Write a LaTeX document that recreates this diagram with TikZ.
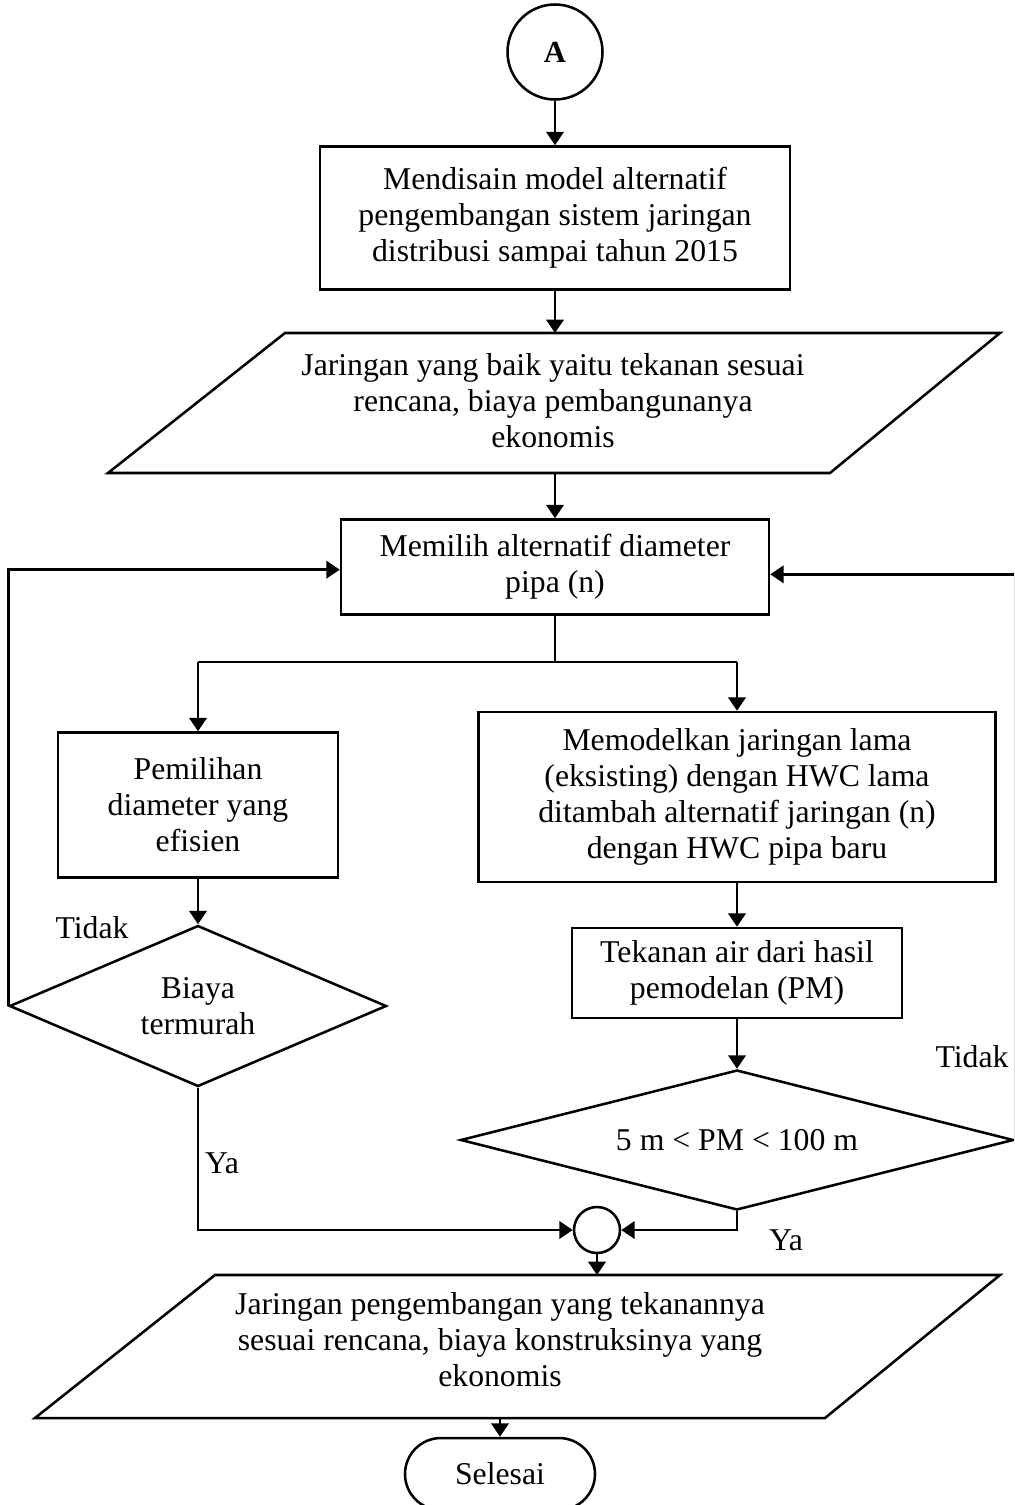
\documentclass[tikz,border=0pt]{standalone}
\usepackage{fontspec}
\setmainfont{Liberation Serif}
\usetikzlibrary{arrows.meta,shapes.geometric}
% one drawing unit = one pixel of the sheet
\def\pxu{0.75pt}
\begin{document}
\begin{tikzpicture}[x=0.75pt,y=-0.75pt,
  line width=1.9pt,
  every node/.style={font=\fontsize{23.8}{27}\selectfont, align=center, inner sep=0pt},
  arr/.style={-{Triangle[length=10pt,width=13pt]}},
  boxnode/.style={draw, rectangle, line width=1.9pt},
  decision/.style={draw, diamond, aspect=3, line width=1.9pt},
  lbl/.style={font=\fontsize{23.8}{27}\selectfont}
]
\useasboundingbox (0,0) rectangle (1014,1505);
\clip (0,0) rectangle (1014,1505);

% start connector
\node[draw, circle, minimum size=95*\pxu, font=\bfseries\fontsize{23}{27}\selectfont] (A) at (555,52) {A};

% design step
\node[boxnode, minimum width=470*\pxu, minimum height=143*\pxu] (b1) at (555,218) {Mendisain model alternatif\\pengembangan sistem jaringan\\distribusi sampai tahun 2015};

% first data parallelogram
\draw (285,333) -- (1000,333) -- (830,473) -- (108,473) -- cycle;
\coordinate (p1n) at (555,333);
\coordinate (p1s) at (555,473);
\node (p1) at (553,401) {Jaringan yang baik yaitu tekanan sesuai\\rencana, biaya pembangunanya\\ekonomis};

% choose pipe diameter
\node[boxnode, minimum width=428*\pxu, minimum height=95*\pxu] (b2) at (555,567) {Memilih alternatif diameter\\pipa (n)};

% left branch
\node[boxnode, minimum width=280*\pxu, minimum height=145*\pxu] (bL) at (198,805) {Pemilihan\\diameter yang\\efisien};
\node[decision, minimum width=377*\pxu, minimum height=161*\pxu] (dL) at (198,1006) {Biaya\\termurah};

% right branch
\node[boxnode, minimum width=517*\pxu, minimum height=170*\pxu] (bR) at (737,797) {Memodelkan jaringan lama\\(eksisting) dengan HWC lama\\ditambah alternatif jaringan (n)\\dengan HWC pipa baru};
\node[boxnode, minimum width=330*\pxu, minimum height=90*\pxu] (bT) at (737,973) {Tekanan air dari hasil\\pemodelan (PM)};
\node[decision, aspect=4, minimum width=553*\pxu, minimum height=140*\pxu] (dR) at (737,1140) {5 m {<} PM {<} 100 m};

% merge point
\node[draw, circle, minimum size=46*\pxu] (jn) at (597,1230) {};

% result parallelogram
\draw (215,1275) -- (1000,1275) -- (825,1418) -- (35,1418) -- cycle;
\coordinate (p2n) at (597,1275);
\coordinate (p2s) at (500,1418);
\node (p2) at (500,1340) {Jaringan pengembangan yang tekanannya\\sesuai rencana, biaya konstruksinya yang\\ekonomis};

% terminator
\node[draw, rectangle, rounded corners=36*\pxu, minimum width=190*\pxu, minimum height=72*\pxu] (end) at (500,1474) {Selesai};

% connectors
\draw[arr] (A.south) -- (b1.north);
\draw[arr] (b1.south) -- (p1n);
\draw[arr] (p1s) -- (b2.north);
\coordinate (split) at (555,662);
\draw (b2.south) -- (split);
\draw (bL.north |- split) -- (bR.north |- split);
\draw[arr] (bL.north |- split) -- (bL.north);
\draw[arr] (bR.north |- split) -- (bR.north);
\draw[arr] (bL.south) -- (dL.north);
\draw[arr] (dL.west) |- ([yshift=-2pt]b2.west);
\draw[arr] (dL.south) |- (jn.west);
\draw[arr] (bR.south) -- (bT.north);
\draw[arr] (bT.south) -- (dR.north);
\draw[arr] (dR.east) |- ([yshift=-5.5pt]b2.east);
\draw[arr] (dR.south) |- (jn.east);
\draw[arr] (jn.south) -- (p2n);
\draw[arr] (p2s) -- (end.north);

% branch labels
\node[lbl] (t1) at (92,928) {Tidak};
\node[lbl] (y1) at (222,1163) {Ya};
\node[lbl] (t2) at (972,1057) {Tidak};
\node[lbl] (y2) at (786,1240) {Ya};
\end{tikzpicture}
\end{document}
